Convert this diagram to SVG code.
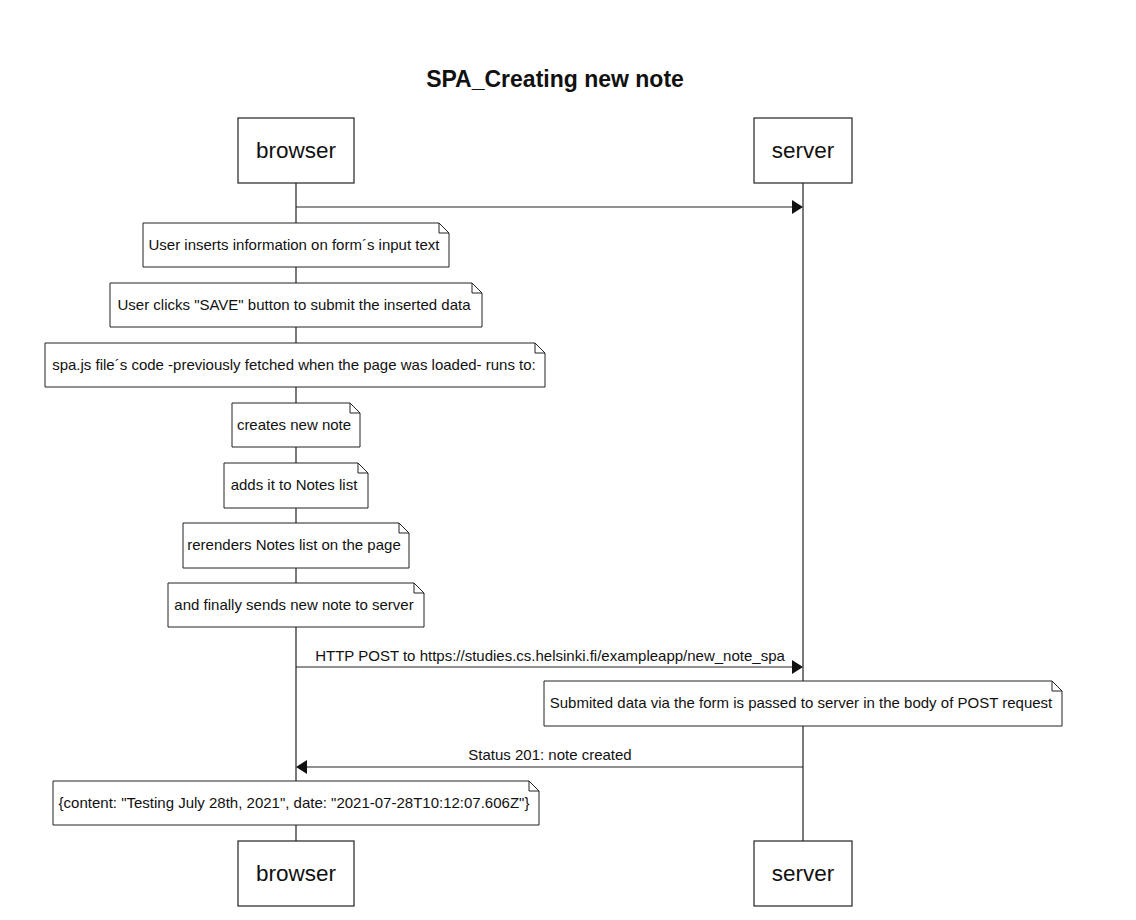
<svg xmlns="http://www.w3.org/2000/svg" width="1136" height="920" viewBox="0 0 1136 920">
<style>
  text { font-family: "Liberation Sans", Arial, sans-serif; fill: #111; }
  .title { font-size: 23px; font-weight: bold; text-anchor: middle; }
  .part { font-size: 22.5px; text-anchor: middle; }
  .box { fill: #fff; stroke: #222; stroke-width: 1.2; }
  .note { fill: #fff; stroke: #222; stroke-width: 1; }
  .fold { fill: none; stroke: #222; stroke-width: 1; }
  .nt { font-size: 15px; text-anchor: middle; }
  .msg { font-size: 15px; text-anchor: middle; }
  .life { stroke: #222; stroke-width: 1.2; fill: none; }
  .arrow { stroke: #222; stroke-width: 1.2; fill: none; }
  .head { fill: #111; stroke: none; }
</style>
<rect width="1136" height="920" fill="#fff"/>
<text class="title" x="555" y="87">SPA_Creating new note</text>

<g id="lifelines">
  <line class="life" x1="296" y1="183" x2="296" y2="841"/>
  <line class="life" x1="803" y1="183" x2="803" y2="841"/>
</g>

<g id="participant-browser-top">
  <rect class="box" x="238" y="118" width="116" height="65"/>
  <text class="part" x="296" y="158">browser</text>
</g>
<g id="participant-server-top">
  <rect class="box" x="754" y="118" width="98" height="65"/>
  <text class="part" x="803" y="158">server</text>
</g>
<g id="participant-browser-bottom">
  <rect class="box" x="238" y="841" width="116" height="65"/>
  <text class="part" x="296" y="881">browser</text>
</g>
<g id="participant-server-bottom">
  <rect class="box" x="754" y="841" width="98" height="65"/>
  <text class="part" x="803" y="881">server</text>
</g>

<g id="connectors">
  <line class="arrow" x1="296" y1="207" x2="793" y2="207"/>
  <path class="head" d="M803,207 L792,200 L792,214 Z"/>
  <line class="arrow" x1="296" y1="667" x2="793" y2="667"/>
  <path class="head" d="M803,667 L792,660 L792,674 Z"/>
  <text class="msg" x="550" y="661">HTTP POST to https://studies.cs.helsinki.fi/exampleapp/new_note_spa</text>
  <line class="arrow" x1="306" y1="767" x2="803" y2="767"/>
  <path class="head" d="M296,767 L307,760 L307,774 Z"/>
  <text class="msg" x="550" y="760">Status 201: note created</text>
</g>

<g id="note1">
  <path class="note" d="M143,223 H439 L449,233 V267 H143 Z"/>
  <path class="fold" d="M439,223 V233 H449"/>
  <text class="nt" x="294" y="250">User inserts information on form´s input text</text>
</g>
<g id="note2">
  <path class="note" d="M110,283 H472 L482,293 V327 H110 Z"/>
  <path class="fold" d="M472,283 V293 H482"/>
  <text class="nt" x="294" y="310">User clicks "SAVE" button to submit the inserted data</text>
</g>
<g id="note3">
  <path class="note" d="M45,343 H535 L545,353 V387 H45 Z"/>
  <path class="fold" d="M535,343 V353 H545"/>
  <text class="nt" x="294" y="370">spa.js file´s code -previously fetched when the page was loaded- runs to:</text>
</g>
<g id="note4">
  <path class="note" d="M232,403 H350 L360,413 V447 H232 Z"/>
  <path class="fold" d="M350,403 V413 H360"/>
  <text class="nt" x="294" y="430">creates new note</text>
</g>
<g id="note5">
  <path class="note" d="M224,463 H358 L368,473 V508 H224 Z"/>
  <path class="fold" d="M358,463 V473 H368"/>
  <text class="nt" x="294" y="490">adds it to Notes list</text>
</g>
<g id="note6">
  <path class="note" d="M183,523 H399 L409,533 V568 H183 Z"/>
  <path class="fold" d="M399,523 V533 H409"/>
  <text class="nt" x="294" y="550">rerenders Notes list on the page</text>
</g>
<g id="note7">
  <path class="note" d="M168,583 H414 L424,593 V627 H168 Z"/>
  <path class="fold" d="M414,583 V593 H424"/>
  <text class="nt" x="294" y="610">and finally sends new note to server</text>
</g>
<g id="note8">
  <path class="note" d="M544,681 H1052 L1062,691 V726 H544 Z"/>
  <path class="fold" d="M1052,681 V691 H1062"/>
  <text class="nt" x="801" y="708">Submited data via the form is passed to server in the body of POST request</text>
</g>
<g id="note9">
  <path class="note" d="M53,781 H529 L539,791 V825 H53 Z"/>
  <path class="fold" d="M529,781 V791 H539"/>
  <text class="nt" x="294" y="808">{content: "Testing July 28th, 2021", date: "2021-07-28T10:12:07.606Z"}</text>
</g>
</svg>
